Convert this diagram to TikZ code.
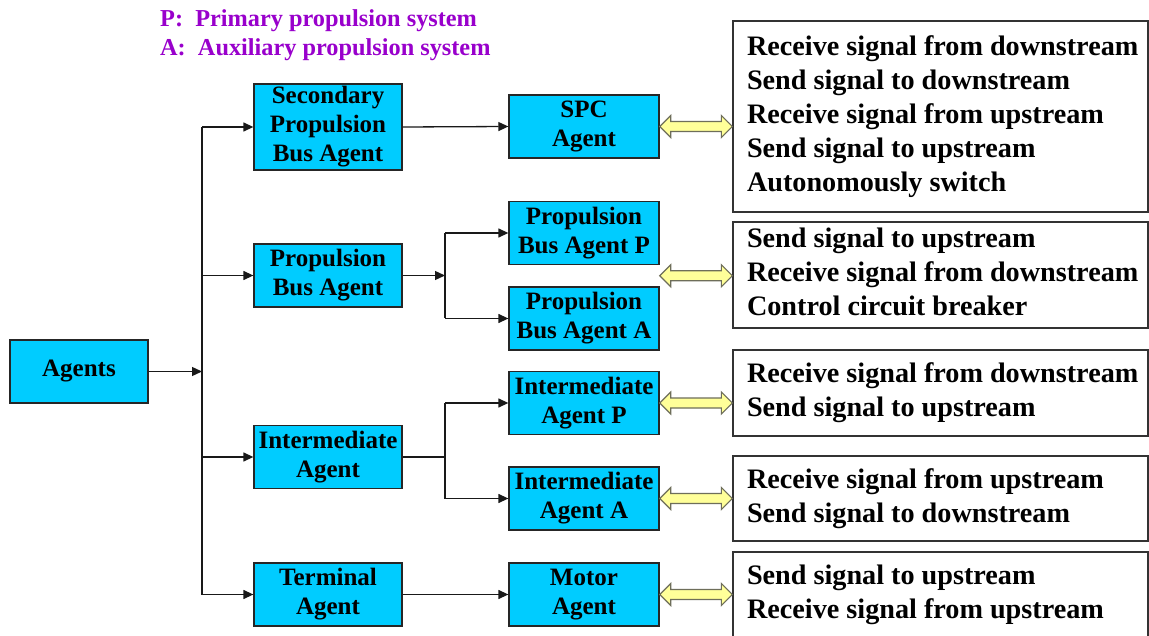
\documentclass[tikz,border=0pt]{standalone}
\usepackage{fontspec}
\setmainfont{Liberation Serif}
\usetikzlibrary{arrows.meta,calc}
\definecolor{agentcyan}{HTML}{00CCFF}
\definecolor{legendpurple}{HTML}{9900CC}
\definecolor{dblfill}{HTML}{FFFF99}
\definecolor{dbledge}{HTML}{6E6E5A}
% double-headed block arrow from point #1 to the x of point #2
\newcommand\blockdblarrow[2]{%
  \path[dblarr] let \p1=#1, \p2=#2 in
    (\x1,\y1) -- (\x1+11pt,\y1+11pt) -- (\x1+11pt,\y1+5pt) --
    (\x2-11pt,\y1+5pt) -- (\x2-11pt,\y1+11pt) -- (\x2,\y1) --
    (\x2-11pt,\y1-11pt) -- (\x2-11pt,\y1-5pt) -- (\x1+11pt,\y1-5pt) --
    (\x1+11pt,\y1-11pt) -- cycle;}
% left-aligned list of lines in a fixed-width slot
\newcommand\funclist[1]{\makebox[387pt][l]{\raisebox{-2pt}{\begin{tabular}{@{}l@{}}#1\end{tabular}}}}
\begin{document}
\begin{tikzpicture}[x=1pt,y=-1pt,
  agent/.style={draw=black!85, line width=1.3pt, fill=agentcyan,
    minimum width=148pt, minimum height=63pt, inner sep=0pt, align=center,
    font=\fontsize{25}{29}\selectfont\bfseries},
  agentB/.style={agent, minimum width=150pt},
  info/.style={draw=black!80, line width=1.3pt, fill=white,
    minimum width=415pt, inner xsep=14pt, inner ysep=0pt,
    font=\fontsize{28.2}{34}\selectfont\bfseries},
  conn/.style={line width=1.3pt, draw=black!90},
  arr/.style={conn, -{Triangle[length=10pt,width=9pt]}},
  dblarr/.style={draw=dbledge, line width=1.2pt, fill=dblfill, line join=miter},
  legend/.style={text=legendpurple, align=left, anchor=west, inner sep=0pt,
    font=\fontsize{24.3}{29}\selectfont\bfseries}]
\useasboundingbox (0,0) rectangle (1149,636);
\fill[white] (0,0) rectangle (1149,636);

% legend
\node[legend] (key) at (160,35) {P:\ \ Primary propulsion system\\A:\ \ Auxiliary propulsion system};

% agent tree
\node[agent, minimum width=138pt] (ag) at (79,371.5) {Agents};
\node[agent, minimum height=86pt] (spb) at (328,127) {Secondary\\Propulsion\\Bus Agent};
\node[agent] (pb) at (328,275.5) {Propulsion\\Bus Agent};
\node[agent] (ia) at (328,457) {Intermediate\\Agent};
\node[agent] (ta) at (328,594.5) {Terminal\\Agent};

\node[agentB] (spc) at (584,126.5) {SPC\\Agent};
\node[agentB] (pbp) at (584,233) {Propulsion\\Bus Agent P};
\node[agentB] (pba) at (584,318.5) {Propulsion\\Bus Agent A};
\node[agentB] (iap) at (584,403) {Intermediate\\Agent P};
\node[agentB] (iaa) at (584,498.5) {Intermediate\\Agent A};
\node[agentB] (mot) at (584,594.5) {Motor\\Agent};

% function lists
\node[info, minimum height=191pt] (r1) at (940.5,116.5) {\funclist{Receive signal from downstream\\Send signal to downstream\\Receive signal from upstream\\Send signal to upstream\\Autonomously switch}};
\node[info, minimum height=106pt] (r2) at (940.5,275) {\funclist{Send signal to upstream\\Receive signal from downstream\\Control circuit breaker}};
\node[info, minimum height=86pt] (r3) at (940.5,393) {\funclist{Receive signal from downstream\\Send signal to upstream}};
\node[info, minimum height=85pt] (r4) at (940.5,498.5) {\funclist{Receive signal from upstream\\Send signal to downstream}};
\node[info, minimum height=86pt] (r5) at (940.5,595) {\funclist{Send signal to upstream\\Receive signal from upstream}};

% trunk from Agents
\coordinate (trunk) at (202,371.5);
\draw[arr] (ag.east) -- (trunk);
\draw[conn] (trunk |- spb.west) -- (trunk |- ta.west);
\draw[arr] (trunk |- spb.west) -- (spb.west);
\draw[arr] (trunk |- pb.west) -- (pb.west);
\draw[arr] (trunk |- ia.west) -- (ia.west);
\draw[arr] (trunk |- ta.west) -- (ta.west);

% second level links
\draw[arr] (spb.east) -- (spc.west);
\draw[arr] (ta.east) -- (mot.west);

\coordinate (br1) at (445,275.5);
\draw[arr] (pb.east) -- (br1);
\draw[conn] (br1 |- pbp.west) -- (br1 |- pba.west);
\draw[arr] (br1 |- pbp.west) -- (pbp.west);
\draw[arr] (br1 |- pba.west) -- (pba.west);

\coordinate (br2) at (445,457);
\draw[conn] (ia.east) -- (br2);
\draw[conn] (br2 |- iap.west) -- (br2 |- iaa.west);
\draw[arr] (br2 |- iap.west) -- (iap.west);
\draw[arr] (br2 |- iaa.west) -- (iaa.west);

% exchanges with the function lists
\coordinate (pbmid) at ($(pbp.south east)!0.5!(pba.north east)$);
\blockdblarrow{(spc.east)}{(r1.west)}
\blockdblarrow{(pbmid)}{(r2.west)}
\blockdblarrow{(iap.east)}{(r3.west)}
\blockdblarrow{(iaa.east)}{(r4.west)}
\blockdblarrow{(mot.east)}{(r5.west)}
\end{tikzpicture}
\end{document}
